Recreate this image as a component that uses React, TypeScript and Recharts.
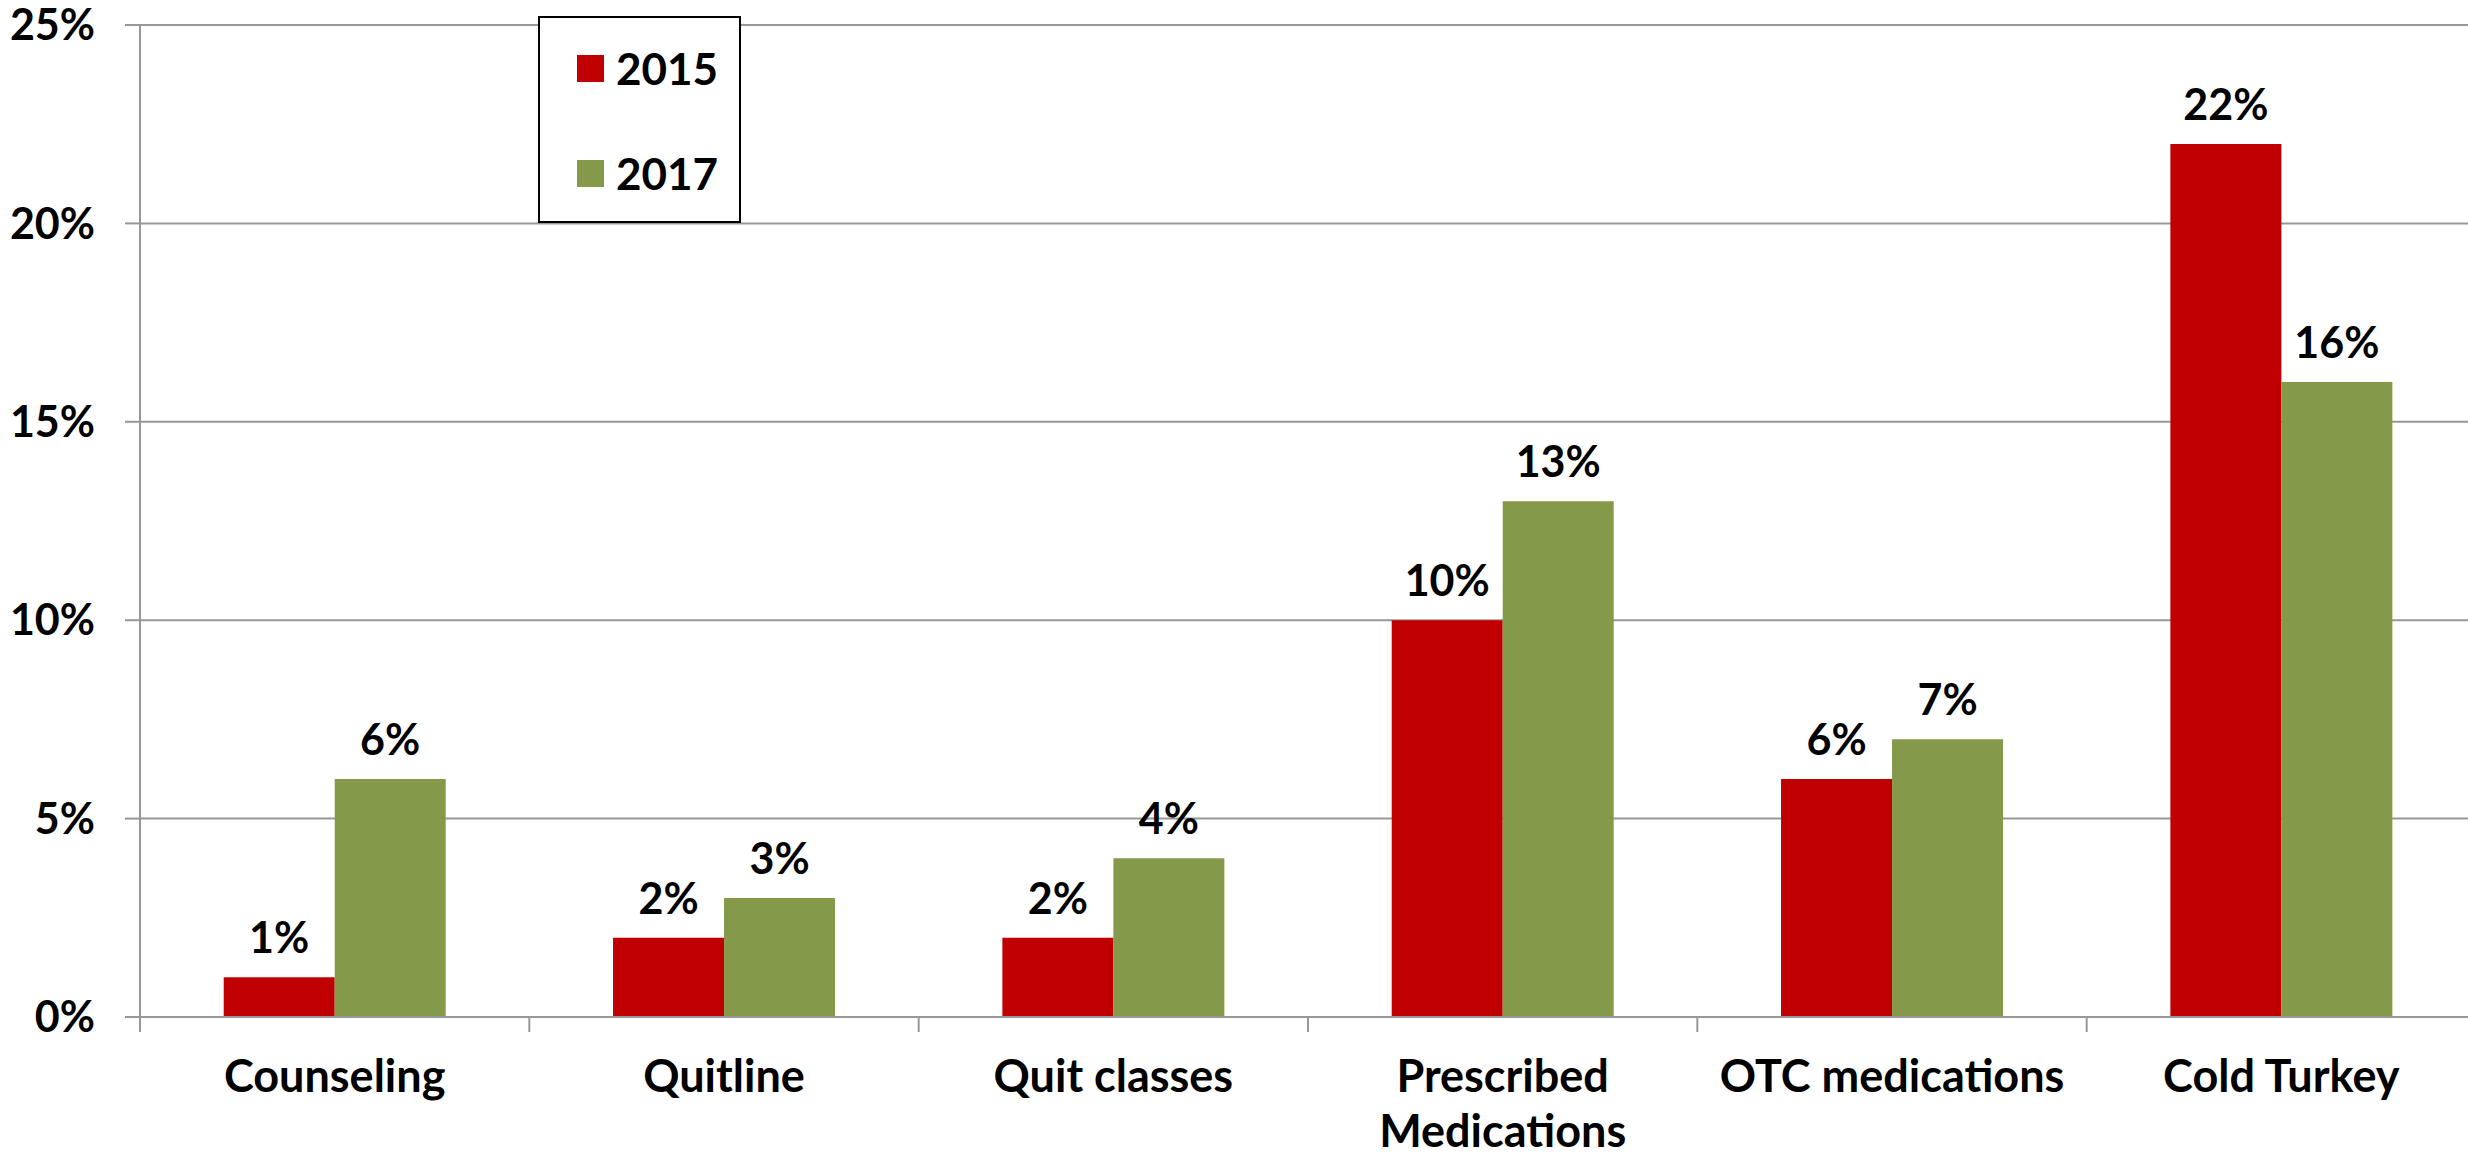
import React from "react";
import { BarChart, Bar, XAxis, YAxis, CartesianGrid, LabelList, ReferenceLine } from "recharts";

const categories = ["Counseling", "Quitline", "Quit classes", "Prescribed\nMedications", "OTC medications", "Cold Turkey"];
const values2015 = [1, 2, 2, 10, 6, 22];
const values2017 = [6, 3, 4, 13, 7, 16];
const yTicks = [0, 5, 10, 15, 20, 25];

const data = categories.map((name, i) => ({ name, y2015: values2015[i], y2017: values2017[i] }));

const RED = "#C00000";
const GREEN = "#85994A";
const GRID = "#979797";
const FONT = "Lato, 'Open Sans', sans-serif";

const series = [
  { key: "y2015", name: "2015", color: RED },
  { key: "y2017", name: "2017", color: GREEN },
];

const pct = (v: any) => `${v}%`;

// category label, splits on \n for two-line names
function CategoryTick({ x, y, payload }: any) {
  const lines = String(payload.value).split("\n");
  return (
    <text x={x} y={y} textAnchor="middle" fontFamily={FONT} fontWeight={700} fontSize={45} fill="#000">
      {lines.map((line, i) => (
        <tspan key={i} x={x} dy={i === 0 ? 75 : 55}>
          {line}
        </tspan>
      ))}
    </text>
  );
}

// short tick below the axis at the start of each category band
function BoundaryTick({ x1, y1, y2 }: any) {
  const y = Math.max(y1, y2);
  return <line x1={x1} x2={x1} y1={y} y2={y + 15} stroke={GRID} strokeWidth={2} />;
}

function LegendBox() {
  return (
    <div
      style={{
        position: "absolute",
        left: 538,
        top: 16,
        width: 203,
        height: 207,
        boxSizing: "border-box",
        border: "2px solid #000",
        background: "#fff",
      }}
    >
      {series.map((s, i) => (
        <div
          key={s.key}
          style={{ position: "absolute", left: 37, top: 33 + i * 105, height: 34, display: "flex", alignItems: "center" }}
        >
          <span style={{ display: "inline-block", width: 27, height: 27, background: s.color, marginRight: 12 }} />
          <span style={{ fontFamily: FONT, fontWeight: 700, fontSize: 44, lineHeight: "34px", color: "#000" }}>
            {s.name}
          </span>
        </div>
      ))}
    </div>
  );
}

export default function App() {
  const labelStyle = { fill: "#000", fontSize: 43, fontWeight: 700, fontFamily: FONT };
  return (
    <div style={{ position: "absolute", left: 0, top: 0, width: 2468, height: 1156, overflow: "hidden", background: "#fff" }}>
      <BarChart
        width={2476}
        height={1156}
        data={data}
        margin={{ top: 25, right: 0, left: 0, bottom: 0 }}
        barGap={0}
        barCategoryGap="21.5%"
      >
        <CartesianGrid vertical={false} stroke={GRID} strokeWidth={2} />
        <XAxis
          dataKey="name"
          interval={0}
          height={139}
          tickLine={false}
          tickSize={0}
          tickMargin={0}
          axisLine={{ stroke: GRID, strokeWidth: 2 }}
          tick={<CategoryTick />}
        />
        <YAxis
          type="number"
          domain={[0, 25]}
          ticks={yTicks}
          interval={0}
          width={140}
          tickFormatter={pct}
          tickSize={15}
          tickMargin={30}
          axisLine={{ stroke: GRID, strokeWidth: 2 }}
          tickLine={{ stroke: GRID, strokeWidth: 2 }}
          tick={labelStyle}
        />
        {categories.map((c) => (
          <ReferenceLine key={c} x={c} position="start" shape={<BoundaryTick />} />
        ))}
        {series.map((s) => (
          <Bar key={s.key} dataKey={s.key} name={s.name} fill={s.color} isAnimationActive={false}>
            <LabelList dataKey={s.key} position="top" offset={24} formatter={pct} {...labelStyle} />
          </Bar>
        ))}
      </BarChart>
      <LegendBox />
    </div>
  );
}
